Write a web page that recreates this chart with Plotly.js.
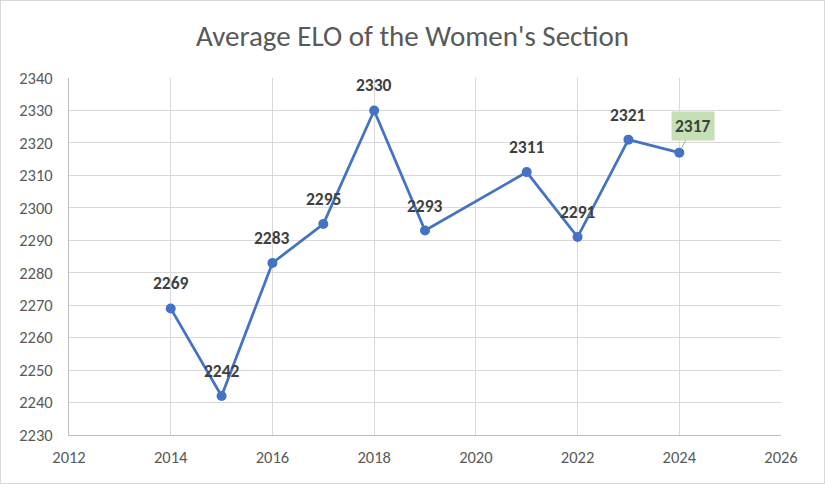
<!DOCTYPE html>
<html>
<head>
<meta charset="utf-8">
<script src="https://cdn.plot.ly/plotly-3.0.1.min.js"></script>
<style>
html,body{margin:0;padding:0;background:#fff;}
#chart{width:825px;height:484px;box-sizing:border-box;border:1px solid #d9d9d9;}
</style>
</head>
<body>
<div id="chart"></div>
<script>
const years = [2014, 2015, 2016, 2017, 2018, 2019, 2021, 2022, 2023, 2024];
const elo = [2269, 2242, 2283, 2295, 2330, 2293, 2311, 2291, 2321, 2317];
const calloutYear = 2024;

const FONT = 'Calibri, Carlito, Lato, "Open Sans", sans-serif';

const annotations = years.map((x, i) => {
  if (x === calloutYear) {
    return {
      x: x, y: elo[i], xref: 'x', yref: 'y',
      text: '<b>' + elo[i] + '</b>',
      showarrow: true, arrowhead: 0, arrowwidth: 1, arrowcolor: '#a6a6a6',
      ax: 14, ay: -27, standoff: 4,
      bgcolor: '#c5e0b4', borderpad: 3,
      font: {family: FONT, size: 17.5, color: '#404040'}
    };
  }
  return {
    x: x, y: elo[i], xref: 'x', yref: 'y',
    text: '<b>' + elo[i] + '</b>',
    showarrow: false, yshift: 25,
    font: {family: FONT, size: 17.5, color: '#404040'}
  };
});

const trace = {
  x: years, y: elo, type: 'scatter', mode: 'lines+markers',
  line: {color: '#4472c4', width: 2.75},
  marker: {color: '#4472c4', size: 10},
  hoverinfo: 'x+y'
};

const layout = {
  width: 823, height: 482,
  margin: {l: 68, r: 43, t: 77, b: 48},
  paper_bgcolor: '#ffffff', plot_bgcolor: '#ffffff',
  showlegend: false,
  title: {text: 'Average ELO of the Women\'s Section', x: 0.5, xanchor: 'center', y: 0.928, yanchor: 'middle',
    font: {family: FONT, size: 29, color: '#595959'}},
  xaxis: {
    range: [2012, 2026], dtick: 2, tick0: 2012, showgrid: true, gridcolor: '#d9d9d9', gridwidth: 1,
    showline: true, linecolor: '#bfbfbf', linewidth: 1, ticks: '', zeroline: false,
    tickfont: {family: FONT, size: 16.5, color: '#595959'}, ticklabelstandoff: 7
  },
  yaxis: {
    range: [2230, 2340], dtick: 10, tick0: 2230, showgrid: true, gridcolor: '#d9d9d9', gridwidth: 1,
    showline: true, linecolor: '#bfbfbf', linewidth: 1, ticks: '', zeroline: false,
    tickfont: {family: FONT, size: 16.5, color: '#595959'}, ticklabelstandoff: 12
  },
  annotations: annotations
};

Plotly.newPlot('chart', [trace], layout, {displayModeBar: false, staticPlot: true});
</script>
</body>
</html>
